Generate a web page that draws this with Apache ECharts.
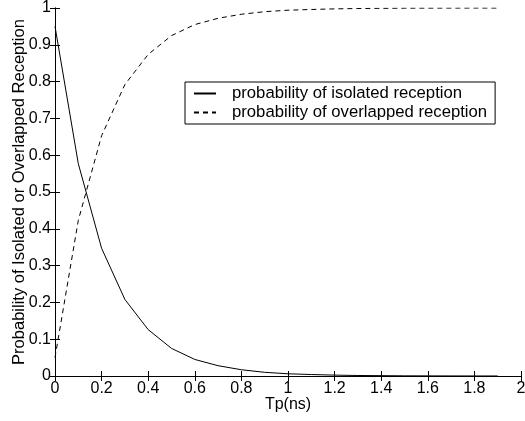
<!DOCTYPE html>
<html><head><meta charset="utf-8">
<script src="https://cdn.jsdelivr.net/npm/echarts@6/dist/echarts.min.js"></script>
<style>html,body{margin:0;padding:0;background:#fff}#c{width:525px;height:421px}</style>
</head><body><div id="c"></div>
<script>
var tp = [0,0.1,0.2,0.3,0.4,0.5,0.6,0.7,0.8,0.9,1.0,1.1,1.2,1.3,1.4,1.5,1.6,1.7,1.8,1.9];
var isolated = [0.95,0.577,0.347,0.208,0.126,0.075,0.045,0.028,0.017,0.010,0.006,0.004,0.0024,0.0014,0.0009,0.0005,0.0003,0.0002,0.0001,0.0001];
var overlapped = [0.05,0.423,0.653,0.792,0.874,0.925,0.955,0.972,0.983,0.990,0.994,0.996,0.9976,0.9986,0.9991,0.9995,0.9997,0.9998,0.9999,0.9999];
var seriesNames = ['probability of isolated reception','probability of overlapped reception'];
var xTitle = 'Tp(ns)';
var yTitle = 'Probability of Isolated or Overlapped Reception';

var font = 'Liberation Sans, Arial, Helvetica, sans-serif';
var chart = echarts.init(document.getElementById('c'), null, {renderer:'canvas'});
function pairs(xs, ys){ return xs.map(function(x,i){return [x, ys[i]];}); }
var axisCommon = {
  axisLine:{show:true,lineStyle:{color:'#000',width:1}},
  axisTick:{show:true,inside:true,length:5,lineStyle:{color:'#000'}},
  splitLine:{show:false}
};
chart.setOption({
  animation:false,
  backgroundColor:'#fff',
  grid:{left:55,right:4,top:8,bottom:45,containLabel:false,outerBoundsMode:'none'},
  legend:{
    orient:'vertical', left:185, top:82,
    data:seriesNames,
    itemWidth:22, itemHeight:10, itemGap:2,
    padding:[3,8,3,8],
    borderColor:'#000', borderWidth:1, backgroundColor:'#fff',
    itemStyle:{opacity:0},
    textStyle:{fontFamily:font,fontSize:16.7,color:'#000',padding:[0,0,0,11]}
  },
  xAxis:[
    Object.assign({type:'value',min:0,max:2,interval:0.2,position:'bottom',
      name:xTitle,nameLocation:'middle',nameGap:21,nameMoveOverlap:false,
      nameTextStyle:{fontFamily:font,fontSize:16,color:'#000',verticalAlign:'top'},
      axisLabel:{fontFamily:font,fontSize:16,color:'#000',margin:5}},axisCommon),
    Object.assign({type:'value',min:0,max:2,interval:0.2,position:'top',
      axisLabel:{show:false}},axisCommon)
  ],
  yAxis:[
    Object.assign({type:'value',min:0,max:1,interval:0.1,position:'left',
      name:yTitle,nameLocation:'middle',nameGap:27.5,nameMoveOverlap:false,
      nameTextStyle:{fontFamily:font,fontSize:16.5,color:'#000'},
      axisLabel:{fontFamily:font,fontSize:16,color:'#000',margin:4}},axisCommon),
    Object.assign({type:'value',min:0,max:1,interval:0.1,position:'right',
      axisLabel:{show:false}},axisCommon)
  ],
  series:[
    {name:seriesNames[0],type:'line',data:pairs(tp,isolated),symbol:'none',
      lineStyle:{color:'#000',width:1,type:'solid'},itemStyle:{color:'#000'}},
    {name:seriesNames[1],type:'line',data:pairs(tp,overlapped),symbol:'none',
      lineStyle:{color:'#000',width:1,type:[5,4]},itemStyle:{color:'#000'}}
  ]
});
</script></body></html>
